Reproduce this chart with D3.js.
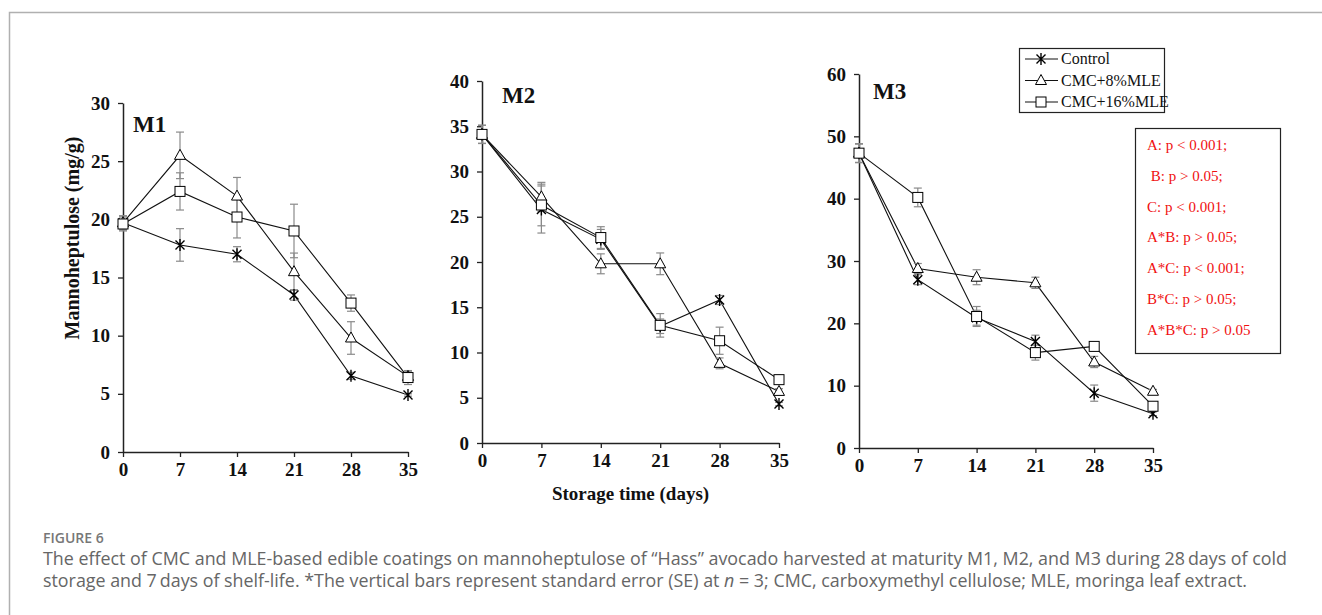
<!DOCTYPE html>
<html>
<head>
<meta charset="utf-8">
<title>Figure 6 - mannoheptulose</title>
<script src="https://d3js.org/d3.v7.min.js"></script>
<style>
  body { margin: 0; background: #fff; }
  svg { display: block; }
</style>
</head>
<body>
<svg id="fig" width="1322" height="615"></svg>
<script>
// storage days (x axis)
var days = [0, 7, 14, 21, 28, 35];
var seriesNames = ["Control", "CMC+8%MLE", "CMC+16%MLE"];
var markers = ["star", "triangle", "square"];

// M1 means and standard errors
var m1Control = [19.7, 17.8, 17.0, 13.5, 6.55, 4.9];
var m1Cmc8 = [19.7, 25.5, 22.0, 15.5, 9.8, 6.5];
var m1Cmc16 = [19.6, 22.4, 20.2, 19.0, 12.8, 6.4];
var m1ControlSe = [0.6, 1.4, 0.65, 0.45, 0.3, 0.1];
var m1Cmc8Se = [0.6, 2.0, 1.6, 1.6, 1.4, 0.4];
var m1Cmc16Se = [0.6, 1.6, 1.8, 2.3, 0.7, 0.6];

// M2
var m2Control = [34.1, 25.8, 22.5, 12.9, 15.8, 4.3];
var m2Cmc8 = [34.1, 27.2, 19.8, 19.8, 8.8, 5.7];
var m2Cmc16 = [34.1, 26.3, 22.7, 13.0, 11.3, 7.0];
var m2ControlSe = [1.0, 2.6, 1.1, 0.8, 0.5, 0.2];
var m2Cmc8Se = [1.0, 1.6, 1.1, 1.2, 0.6, 0.3];
var m2Cmc16Se = [1.0, 2.3, 1.2, 1.3, 1.5, 0.2];

// M3
var m3Control = [47.3, 27.0, 20.9, 17.1, 8.8, 5.5];
var m3Cmc8 = [47.3, 28.8, 27.4, 26.5, 13.8, 9.1];
var m3Cmc16 = [47.3, 40.2, 21.1, 15.3, 16.3, 6.7];
var m3ControlSe = [1.5, 0.8, 1.2, 1.0, 1.3, 0.3];
var m3Cmc8Se = [1.5, 0.8, 1.2, 0.9, 0.9, 0.3];
var m3Cmc16Se = [1.5, 1.5, 1.6, 1.2, 0.4, 0.5];

// y tick values for each panel
var m1Ticks = [0, 5, 10, 15, 20, 25, 30];
var m2Ticks = [0, 5, 10, 15, 20, 25, 30, 35, 40];
var m3Ticks = [0, 10, 20, 30, 40, 50, 60];

// anova results box
var statsLines = ["A: p < 0.001;", " B: p > 0.05;", "C: p < 0.001;", "A*B: p > 0.05;",
                  "A*C: p < 0.001;", "B*C: p > 0.05;", "A*B*C: p > 0.05"];

var captionTitle = "FIGURE 6";
var captionLine1 = "The effect of CMC and MLE-based edible coatings on mannoheptulose of \u201cHass\u201d avocado harvested at maturity M1, M2, and M3 during 28\u2009days of cold";
var captionLine2a = "storage and 7\u2009days of shelf-life. *The vertical bars represent standard error (SE) at ";
var captionLine2b = " = 3; CMC, carboxymethyl cellulose; MLE, moringa leaf extract.";

var panels = [
  { name: "M1", means: [m1Control, m1Cmc8, m1Cmc16], se: [m1ControlSe, m1Cmc8Se, m1Cmc16Se],
    ticks: m1Ticks, ymax: 30, x0: 123, x1: 408, y0: 452, y1: 103, lx: 133, ly: 132, ytitle: true },
  { name: "M2", means: [m2Control, m2Cmc8, m2Cmc16], se: [m2ControlSe, m2Cmc8Se, m2Cmc16Se],
    ticks: m2Ticks, ymax: 40, x0: 482, x1: 779, y0: 443, y1: 81, lx: 502, ly: 103, xtitle: true },
  { name: "M3", means: [m3Control, m3Cmc8, m3Cmc16], se: [m3ControlSe, m3Cmc8Se, m3Cmc16Se],
    ticks: m3Ticks, ymax: 60, x0: 859, x1: 1153, y0: 448, y1: 74, lx: 873, ly: 99 }
];

var serif = "'Liberation Serif', 'Times New Roman', serif";
var svg = d3.select("#fig");

// frame of the figure
svg.append("path")
  .attr("d", "M9.5,615 L9.5,12.5 L1322,12.5")
  .attr("fill", "none").attr("stroke", "#b0b0b0").attr("stroke-width", 1.5);

function drawMarker(g, type, cx, cy) {
  var s = 5;
  if (type == "triangle") {
    g.append("path")
      .attr("d", "M" + cx + "," + (cy - 6) + " L" + (cx + 5.5) + "," + (cy + 4) + " L" + (cx - 5.5) + "," + (cy + 4) + " Z")
      .attr("fill", "#fff").attr("stroke", "#000").attr("stroke-width", 1);
  } else if (type == "square") {
    g.append("rect")
      .attr("x", cx - s).attr("y", cy - s).attr("width", 2 * s).attr("height", 2 * s)
      .attr("fill", "#fff").attr("stroke", "#000").attr("stroke-width", 1);
  } else {
    var d = "M" + (cx - 4.5) + "," + (cy - 4.5) + " L" + (cx + 4.5) + "," + (cy + 4.5) +
            " M" + (cx + 4.5) + "," + (cy - 4.5) + " L" + (cx - 4.5) + "," + (cy + 4.5) +
            " M" + cx + "," + (cy - 6) + " L" + cx + "," + (cy + 6);
    g.append("path").attr("d", d).attr("stroke", "#000").attr("stroke-width", 1.4).attr("fill", "none");
  }
}

panels.forEach(function(p) {
  var x = d3.scaleLinear().domain([0, 35]).range([p.x0, p.x1]);
  var y = d3.scaleLinear().domain([0, p.ymax]).range([p.y0, p.y1]);
  var g = svg.append("g");

  var xAxis = g.append("g")
    .attr("transform", "translate(0," + p.y0 + ")")
    .call(d3.axisBottom(x).tickValues(days).tickSizeInner(5).tickSizeOuter(0).tickPadding(6));
  var yAxis = g.append("g")
    .attr("transform", "translate(" + p.x0 + ",0)")
    .call(d3.axisLeft(y).tickValues(p.ticks).tickSizeInner(5).tickSizeOuter(0).tickPadding(8));

  [xAxis, yAxis].forEach(function(a) {
    a.selectAll("path").attr("stroke", "#222").attr("stroke-width", 1.5);
    a.selectAll("line").attr("stroke", "#222").attr("stroke-width", 1.3);
    a.selectAll("text").attr("font-family", serif).attr("font-weight", "bold")
      .attr("font-size", 19).attr("fill", "#111");
  });

  // lines
  var line = d3.line().x(function(d, i) { return x(days[i]); }).y(function(d) { return y(d); });
  p.means.forEach(function(vals) {
    g.append("path").attr("d", line(vals)).attr("fill", "none")
      .attr("stroke", "#111").attr("stroke-width", 1.1);
  });

  // error bars
  p.means.forEach(function(vals, k) {
    vals.forEach(function(v, i) {
      var e = p.se[k][i];
      var cx = x(days[i]);
      var eb = g.append("g").attr("stroke", "#8a8a8a").attr("stroke-width", 1.2);
      eb.append("line").attr("x1", cx).attr("x2", cx).attr("y1", y(v - e)).attr("y2", y(v + e));
      eb.append("line").attr("x1", cx - 4).attr("x2", cx + 4).attr("y1", y(v - e)).attr("y2", y(v - e));
      eb.append("line").attr("x1", cx - 4).attr("x2", cx + 4).attr("y1", y(v + e)).attr("y2", y(v + e));
    });
  });

  // markers
  p.means.forEach(function(vals, k) {
    vals.forEach(function(v, i) { drawMarker(g, markers[k], x(days[i]), y(v)); });
  });

  g.append("text").attr("x", p.lx).attr("y", p.ly)
    .attr("font-family", serif).attr("font-weight", "bold").attr("font-size", 23)
    .attr("fill", "#111").text(p.name);

  if (p.ytitle) {
    g.append("text")
      .attr("transform", "translate(79,238) rotate(-90)")
      .attr("text-anchor", "middle")
      .attr("font-family", serif).attr("font-weight", "bold").attr("font-size", 20)
      .attr("fill", "#111").text("Mannoheptulose (mg/g)");
  }
  if (p.xtitle) {
    g.append("text").attr("x", (p.x0 + p.x1) / 2).attr("y", 500)
      .attr("text-anchor", "middle")
      .attr("font-family", serif).attr("font-weight", "bold").attr("font-size", 19)
      .attr("fill", "#111").text("Storage time (days)");
  }
});

// legend
var leg = svg.append("g");
leg.append("rect").attr("x", 1019.5).attr("y", 48.5).attr("width", 145).attr("height", 64)
  .attr("fill", "#fff").attr("stroke", "#222").attr("stroke-width", 1.2);
seriesNames.forEach(function(name, i) {
  var yy = 59 + i * 21.5;
  leg.append("line").attr("x1", 1025).attr("x2", 1058).attr("y1", yy).attr("y2", yy)
    .attr("stroke", "#111").attr("stroke-width", 1.1);
  drawMarker(leg, markers[i], 1041, yy);
  leg.append("text").attr("x", 1061).attr("y", yy + 5)
    .attr("font-family", serif).attr("font-size", 16).attr("fill", "#111").text(name);
});

// stats box
var st = svg.append("g");
st.append("rect").attr("x", 1135.5).attr("y", 128.5).attr("width", 145).attr("height", 225)
  .attr("fill", "#fff").attr("stroke", "#222").attr("stroke-width", 1.2);
statsLines.forEach(function(t, i) {
  st.append("text").attr("x", 1147).attr("y", 150 + i * 30.8)
    .attr("font-family", serif).attr("font-size", 15).attr("fill", "#f01010")
    .attr("xml:space", "preserve").style("white-space", "pre").text(t);
});

// caption
var cap = svg.append("g").attr("font-family", "'Open Sans', 'Noto Sans', sans-serif").attr("fill", "#666");
cap.append("text").attr("x", 43).attr("y", 543).attr("font-size", 14).attr("font-weight", 600)
  .attr("fill", "#777").text(captionTitle);
cap.append("text").attr("x", 43).attr("y", 565).attr("font-size", 17.8)
  .attr("textLength", 1244).attr("lengthAdjust", "spacingAndGlyphs").text(captionLine1);
var l2 = cap.append("text").attr("x", 43).attr("y", 587).attr("font-size", 17.8)
  .attr("textLength", 1204).attr("lengthAdjust", "spacingAndGlyphs");
l2.append("tspan").text(captionLine2a);
l2.append("tspan").attr("font-style", "italic").text("n");
l2.append("tspan").text(captionLine2b);
</script>
</body>
</html>
